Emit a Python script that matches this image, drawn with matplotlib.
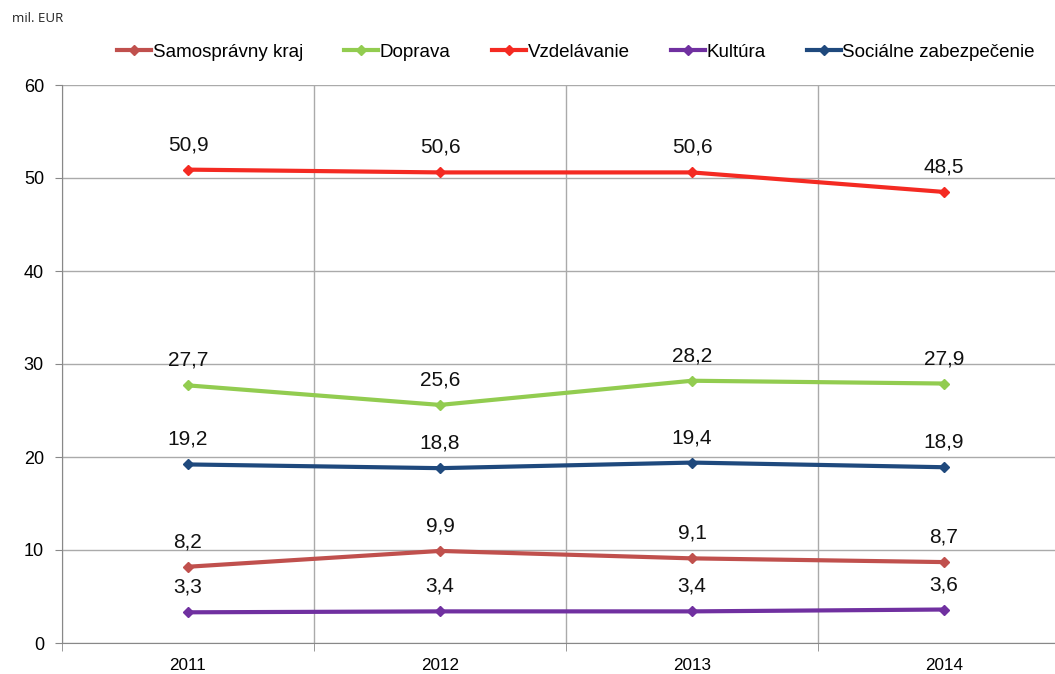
import matplotlib.pyplot as plt
import numpy as np

# chart data
years = ["2011", "2012", "2013", "2014"]
series_names = ["Samosprávny kraj", "Doprava", "Vzdelávanie", "Kultúra", "Sociálne zabezpečenie"]
samospravny = [8.2, 9.9, 9.1, 8.7]
doprava = [27.7, 25.6, 28.2, 27.9]
vzdelavanie = [50.9, 50.6, 50.6, 48.5]
kultura = [3.3, 3.4, 3.4, 3.6]
socialne = [19.2, 18.8, 19.4, 18.9]
colors = ["#C0504D", "#92CC50", "#F42A22", "#7030A0", "#1F497D"]

plt.rcParams['font.family'] = ['Liberation Sans', 'DejaVu Sans']

fig = plt.figure(figsize=(10.55, 6.74), dpi=100)
ax = fig.add_axes([62 / 1055, 1 - 643 / 674, 1 - 62 / 1055, (643 - 85) / 674])

x = np.arange(len(years))
all_series = [samospravny, doprava, vzdelavanie, kultura, socialne]
for name, vals, col in zip(series_names, all_series, colors):
    ax.plot(x, vals, color=col, lw=3, marker="D", ms=5, label=name)
    # value labels above each point
    for xi, v in zip(x, vals):
        ax.annotate(f"{v:.1f}".replace(".", ","), (xi, v), xytext=(0, 18),
                    textcoords="offset points", ha="center", va="center",
                    fontsize=15, color="#111111")

ax.set_yticks(range(0, 61, 10))
ax.set_xticks(x)
ax.set_xticklabels(years, fontsize=12.3)
ax.set_xticks(np.arange(-0.5, 3.6, 1), minor=True)
# set limits after ticks, otherwise set_xticks widens the view
ax.set_ylim(0, 60)
ax.set_xlim(-0.5, -0.5 + (1055 - 62) / 252)
ax.tick_params(axis="y", labelsize=13, length=5, color="#888888", pad=8)
ax.tick_params(axis="x", which="major", length=0, pad=11)
ax.tick_params(axis="x", which="minor", length=6, color="#888888")
ax.grid(axis="y", color="#aaaaaa", lw=1)
ax.grid(axis="x", which="minor", color="#aaaaaa", lw=1)
ax.set_axisbelow(True)
for s in ["top", "right"]:
    ax.spines[s].set_visible(False)
ax.spines["left"].set_color("#888888")
ax.spines["bottom"].set_color("#888888")

fig.text(12 / 1055, 1 - 18 / 674, "mil. EUR", fontsize=9.5, va="center",
         family=["Open Sans", "DejaVu Sans"], color="#222222")

fig.legend(loc="center left", bbox_to_anchor=(117 / 1055, 1 - 52 / 674), ncol=5,
           frameon=False, fontsize=13.5, handlelength=1.8, handletextpad=0.1,
           columnspacing=2.2, borderaxespad=0, borderpad=0)

fig.savefig("out.png", dpi=100)
